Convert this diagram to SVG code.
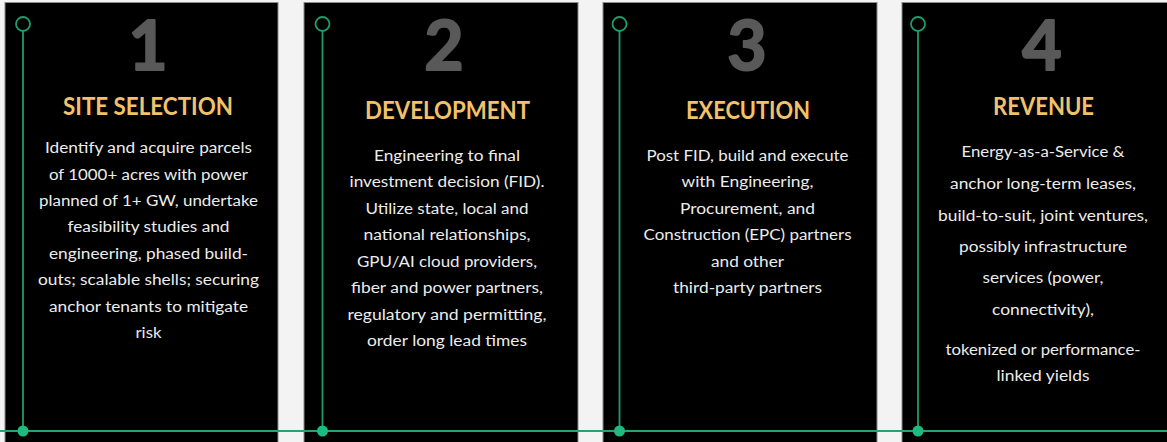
<svg xmlns="http://www.w3.org/2000/svg" width="1167" height="442" viewBox="0 0 1167 442">
<style>
.panel{fill:#000;stroke:#8a8a8a;stroke-width:1}
.num{font-family:Lato,"Liberation Sans",sans-serif;font-weight:700;font-size:68px;fill:#595959;stroke:#595959;stroke-width:2;stroke-linejoin:round;text-anchor:middle}
.ttl{font-family:Lato,"Liberation Sans",sans-serif;font-weight:700;font-size:24px;fill:#f2c26a;text-anchor:middle}
.body{font-family:Lato,"Liberation Sans",sans-serif;font-size:15.5px;fill:#ececec;text-anchor:middle}
.ring{fill:#000;stroke:#1f9c6c;stroke-width:1.8}
.vline{stroke:#1f9c6c;stroke-width:1.8}
.dot{fill:#1dbb7f}
</style>
<rect x="0" y="0" width="1167" height="442" fill="#f3f3f3"/>

<g id="panel1">
<rect class="panel" x="5" y="2.5" width="273" height="441"/>
<text class="num" x="148" y="69.5">1</text>
<text class="ttl" x="148" y="115" textLength="170" lengthAdjust="spacingAndGlyphs">SITE SELECTION</text>
<text class="body" x="148.5" y="153" textLength="207" lengthAdjust="spacingAndGlyphs">Identify and acquire parcels</text>
<text class="body" x="148.5" y="179.5" textLength="199" lengthAdjust="spacingAndGlyphs">of 1000+ acres with power</text>
<text class="body" x="148.5" y="206" textLength="219" lengthAdjust="spacingAndGlyphs">planned of 1+ GW, undertake</text>
<text class="body" x="148.5" y="232" textLength="162" lengthAdjust="spacingAndGlyphs">feasibility studies and</text>
<text class="body" x="148.5" y="258.5" textLength="199" lengthAdjust="spacingAndGlyphs">engineering, phased build-</text>
<text class="body" x="148.5" y="285" textLength="221" lengthAdjust="spacingAndGlyphs">outs; scalable shells; securing</text>
<text class="body" x="148.5" y="311.5" textLength="199" lengthAdjust="spacingAndGlyphs">anchor tenants to mitigate</text>
<text class="body" x="148.5" y="338" textLength="26" lengthAdjust="spacingAndGlyphs">risk</text>
</g>

<g id="panel2">
<rect class="panel" x="304" y="2.5" width="274" height="441"/>
<text class="num" x="444" y="69.5">2</text>
<text class="ttl" x="447.5" y="119" textLength="165" lengthAdjust="spacingAndGlyphs">DEVELOPMENT</text>
<text class="body" x="447" y="160.5" textLength="146" lengthAdjust="spacingAndGlyphs">Engineering to final</text>
<text class="body" x="447" y="187" textLength="195" lengthAdjust="spacingAndGlyphs">investment decision (FID).</text>
<text class="body" x="447" y="213.5" textLength="163" lengthAdjust="spacingAndGlyphs">Utilize state, local and</text>
<text class="body" x="447" y="240" textLength="167" lengthAdjust="spacingAndGlyphs">national relationships,</text>
<text class="body" x="447" y="266.5" textLength="180" lengthAdjust="spacingAndGlyphs">GPU/AI cloud providers,</text>
<text class="body" x="447" y="293" textLength="192" lengthAdjust="spacingAndGlyphs">fiber and power partners,</text>
<text class="body" x="447" y="319.5" textLength="199" lengthAdjust="spacingAndGlyphs">regulatory and permitting,</text>
<text class="body" x="447" y="346" textLength="160" lengthAdjust="spacingAndGlyphs">order long lead times</text>
</g>

<g id="panel3">
<rect class="panel" x="603" y="2.5" width="274" height="441"/>
<text class="num" x="747" y="69.5">3</text>
<text class="ttl" x="748" y="119" textLength="124" lengthAdjust="spacingAndGlyphs">EXECUTION</text>
<text class="body" x="747.5" y="160.5" textLength="202" lengthAdjust="spacingAndGlyphs">Post FID, build and execute</text>
<text class="body" x="747.5" y="187" textLength="132" lengthAdjust="spacingAndGlyphs">with Engineering,</text>
<text class="body" x="747.5" y="213.5" textLength="135" lengthAdjust="spacingAndGlyphs">Procurement, and</text>
<text class="body" x="747.5" y="240" textLength="208" lengthAdjust="spacingAndGlyphs">Construction (EPC) partners</text>
<text class="body" x="747.5" y="266.5" textLength="73" lengthAdjust="spacingAndGlyphs">and other</text>
<text class="body" x="747.5" y="293" textLength="149" lengthAdjust="spacingAndGlyphs">third-party partners</text>
</g>

<g id="panel4">
<rect class="panel" x="902" y="2.5" width="266" height="441"/>
<text class="num" x="1042" y="69.5">4</text>
<text class="ttl" x="1043.5" y="115" textLength="101" lengthAdjust="spacingAndGlyphs">REVENUE</text>
<text class="body" x="1043" y="157" textLength="163" lengthAdjust="spacingAndGlyphs">Energy-as-a-Service &amp;</text>
<text class="body" x="1043" y="189" textLength="186" lengthAdjust="spacingAndGlyphs">anchor long-term leases,</text>
<text class="body" x="1043" y="221" textLength="210" lengthAdjust="spacingAndGlyphs">build-to-suit, joint ventures,</text>
<text class="body" x="1043" y="251.5" textLength="168" lengthAdjust="spacingAndGlyphs">possibly infrastructure</text>
<text class="body" x="1043" y="283" textLength="121" lengthAdjust="spacingAndGlyphs">services (power,</text>
<text class="body" x="1043" y="315" textLength="102" lengthAdjust="spacingAndGlyphs">connectivity),</text>
<text class="body" x="1043" y="355" textLength="195" lengthAdjust="spacingAndGlyphs">tokenized or performance-</text>
<text class="body" x="1043" y="381" textLength="93" lengthAdjust="spacingAndGlyphs">linked yields</text>
</g>

<g id="connectors">
<line x1="0" y1="431" x2="1167" y2="431" stroke="#22a571" stroke-width="2"/>
<line class="vline" x1="23" y1="31" x2="23" y2="431"/>
<line class="vline" x1="322.5" y1="31" x2="322.5" y2="431"/>
<line class="vline" x1="619.5" y1="31" x2="619.5" y2="431"/>
<line class="vline" x1="918" y1="31" x2="918" y2="431"/>
<circle class="ring" cx="23" cy="24" r="7"/>
<circle class="ring" cx="322.5" cy="24" r="7"/>
<circle class="ring" cx="619.5" cy="24" r="7"/>
<circle class="ring" cx="918" cy="24" r="7"/>
<circle class="dot" cx="23" cy="431" r="5.5"/>
<circle class="dot" cx="322.5" cy="431" r="5.5"/>
<circle class="dot" cx="619.5" cy="431" r="5.5"/>
<circle class="dot" cx="918" cy="431" r="5.5"/>
</g>
</svg>
